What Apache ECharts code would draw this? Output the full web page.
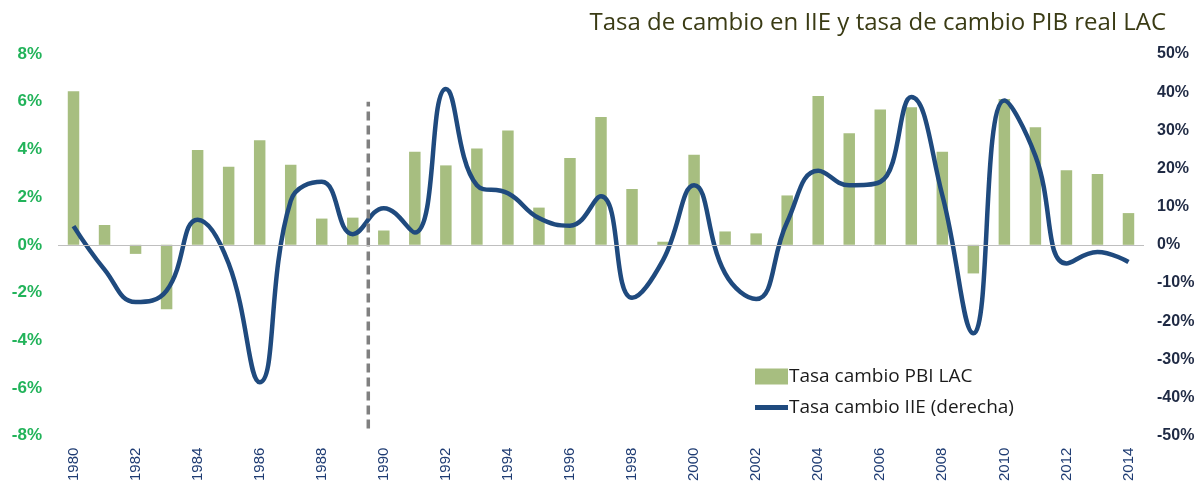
<!DOCTYPE html>
<html>
<head>
<meta charset="utf-8">
<script src="https://cdn.jsdelivr.net/npm/echarts@6/dist/echarts.min.js"></script>
<style>
  html, body { margin: 0; padding: 0; background: #fff; }
  #chart { width: 1199px; height: 484px; }
</style>
</head>
<body>
<div id="chart"></div>
<script>
// años
const years = [
  '1980', '1981', '1982', '1983', '1984', '1985', '1986', '1987', '1988', '1989',
  '1990', '1991', '1992', '1993', '1994', '1995', '1996', '1997', '1998', '1999',
  '2000', '2001', '2002', '2003', '2004', '2005', '2006', '2007', '2008', '2009',
  '2010', '2011', '2012', '2013', '2014'
]
// Tasa cambio PBI LAC (%), eje izquierdo
const gdpGrowth = [
  6.44, 0.83, -0.38, -2.7, 3.97, 3.27, 4.38, 3.36, 1.1, 1.14,
  0.6, 3.9, 3.33, 4.04, 4.79, 1.56, 3.64, 5.36, 2.34, 0.13,
  3.78, 0.56, 0.48, 2.07, 6.24, 4.68, 5.67, 5.77, 3.9, -1.2,
  6.11, 4.93, 3.13, 2.97, 1.33
]
// Tasa cambio IIE (%), eje derecho
const iieGrowth = [
  4.9, -6.5, -15, -12, 6.6, -4.9, -36, 11.5, 16.5, 2.8,
  9.6, 3.2, 40.8, 15.6, 13.5, 7, 5, 12.7, -13.9, -4,
  15.6, -7.5, -14.2, 6, 19.4, 15.6, 16.5, 38.7, 13, -23.2,
  37.8, 23.3, -4.9, -1.9, -4.5
]
// ejes
const leftAxis = { min: -8, max: 8, interval: 2 }
const rightAxis = { min: -50, max: 50, interval: 10 }
// linea punteada entre 1989 y 1990 (posicion en categorias, valores eje izq.)
const breakLine = [[9.5, -7.7], [9.5, 6]]

const chart = echarts.init(document.getElementById('chart'))

// icono de linea para la leyenda (los puntos chicos fijan la caja 33x16)
const lineIcon = 'path://M0,0h0.01v0.01h-0.01z M0,5.5h33v5h-33z M33,16h-0.01v-0.01h0.01z'

chart.setOption({
  animation: false,
  title: {
    text: 'Tasa de cambio en IIE y tasa de cambio PIB real LAC',
    right: 28,
    top: 6,
    textStyle: {
      fontFamily: 'Open Sans',
      fontSize: 24,
      fontWeight: 'normal',
      color: '#3a3b14'
    }
  },
  legend: {
    data: [
      { name: 'Tasa cambio PBI LAC', icon: 'rect' },
      { name: 'Tasa cambio IIE (derecha)', icon: lineIcon }
    ],
    orient: 'vertical',
    left: 750,
    top: 362,
    itemWidth: 33,
    itemHeight: 16,
    itemGap: 12,
    textStyle: {
      fontFamily: 'Open Sans',
      fontSize: 19,
      color: '#1a1a1a',
      padding: [0, 0, 0, -4]
    }
  },
  grid: {
    left: 58,
    right: 55,
    top: 54,
    bottom: 41
  },
  xAxis: [
    {
      type: 'category',
      data: years,
      axisLine: { show: false, onZero: false },
      axisTick: { show: false },
      axisLabel: {
        rotate: 90,
        interval: 1,
        margin: 12,
        fontFamily: 'Liberation Sans',
        fontSize: 15,
        color: '#1f3c73'
      }
    },
    {
      type: 'value',
      min: -0.5,
      max: years.length - 0.5,
      show: false
    }
  ],
  yAxis: [
    {
      type: 'value',
      min: leftAxis.min,
      max: leftAxis.max,
      interval: leftAxis.interval,
      splitLine: { show: false },
      axisLine: { show: false },
      axisTick: { show: false },
      axisLabel: {
        formatter: '{value}%',
        margin: 16,
        fontFamily: 'Liberation Sans',
        fontSize: 17,
        fontWeight: 'bold',
        color: '#22b35a'
      }
    },
    {
      type: 'value',
      position: 'right',
      min: rightAxis.min,
      max: rightAxis.max,
      interval: rightAxis.interval,
      splitLine: { show: false },
      axisLine: { show: false },
      axisTick: { show: false },
      axisLabel: {
        formatter: '{value}%',
        margin: 13,
        fontFamily: 'Liberation Sans',
        fontSize: 16,
        fontWeight: 'bold',
        color: '#1f2a44'
      }
    }
  ],
  series: [
    {
      name: 'Tasa cambio PBI LAC',
      type: 'bar',
      data: gdpGrowth,
      barWidth: '37%',
      itemStyle: { color: '#a7be80' },
      markLine: {
        silent: true,
        symbol: 'none',
        label: { show: false },
        lineStyle: { color: '#bfbfbf', width: 1, type: 'solid' },
        data: [{ yAxis: 0 }]
      }
    },
    {
      name: 'Tasa cambio IIE (derecha)',
      type: 'line',
      yAxisIndex: 1,
      data: iieGrowth,
      smooth: 0.45,
      symbol: 'none',
      lineStyle: { color: '#1f4a7e', width: 4.5 },
      itemStyle: { color: '#1f4a7e' },
      z: 3
    },
    {
      name: 'corte',
      type: 'line',
      xAxisIndex: 1,
      yAxisIndex: 0,
      data: breakLine,
      symbol: 'none',
      silent: true,
      lineStyle: { color: '#808080', width: 3.5, type: [9, 5] },
      z: 4
    }
  ]
})
</script>
</body>
</html>
